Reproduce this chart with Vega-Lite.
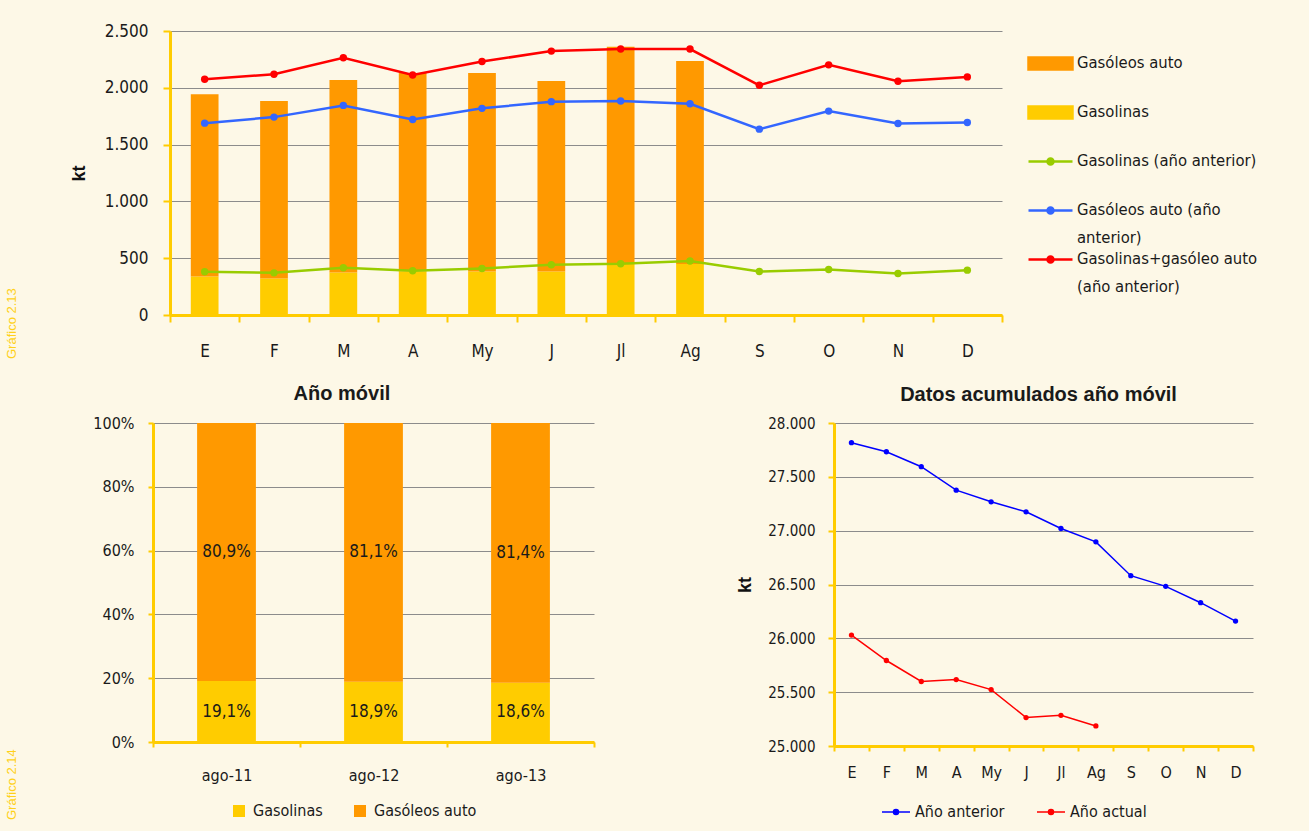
{
  "$schema": "https://vega.github.io/schema/vega-lite/v6.json",
  "background": "#FDF8E7",
  "padding": {"left": 5, "top": 22, "right": 56, "bottom": 12},
  "config": {
    "locale": {"number": {"decimal": ",", "thousands": ".", "grouping": [3], "currency": ["", " €"]}},
    "view": {"stroke": null},
    "axis": {
      "labelFont": "DejaVu Sans Condensed, Liberation Sans Narrow, sans-serif",
      "labelFontSize": 17,
      "labelColor": "#1a1a1a",
      "domainColor": "#FFCC00",
      "domainWidth": 3,
      "tickColor": "#FFCC00",
      "tickWidth": 2,
      "gridColor": "#8c8c8c",
      "gridWidth": 1,
      "titleFont": "Liberation Sans",
      "titleFontWeight": "bold",
      "titleFontSize": 18,
      "titleColor": "#111111"
    },
    "legend": {
      "labelFont": "DejaVu Sans Condensed, Liberation Sans Narrow, sans-serif",
      "labelColor": "#1a1a1a",
      "padding": 0
    },
    "title": {"font": "Liberation Sans", "fontSize": 20, "fontWeight": "bold", "color": "#1a1a1a"}
  },
  "resolve": {"scale": {"color": "independent"}, "legend": {"color": "independent"}},
  "datasets": {
    "barras": [
      {"mes": "E", "serie": "Gasolinas", "valor": 340}, {"mes": "E", "serie": "Gasóleos auto", "valor": 1603},
      {"mes": "F", "serie": "Gasolinas", "valor": 321}, {"mes": "F", "serie": "Gasóleos auto", "valor": 1563},
      {"mes": "M", "serie": "Gasolinas", "valor": 374}, {"mes": "M", "serie": "Gasóleos auto", "valor": 1695},
      {"mes": "A", "serie": "Gasolinas", "valor": 385}, {"mes": "A", "serie": "Gasóleos auto", "valor": 1746},
      {"mes": "My", "serie": "Gasolinas", "valor": 384}, {"mes": "My", "serie": "Gasóleos auto", "valor": 1746},
      {"mes": "J", "serie": "Gasolinas", "valor": 384}, {"mes": "J", "serie": "Gasóleos auto", "valor": 1676},
      {"mes": "Jl", "serie": "Gasolinas", "valor": 448}, {"mes": "Jl", "serie": "Gasóleos auto", "valor": 1913},
      {"mes": "Ag", "serie": "Gasolinas", "valor": 448}, {"mes": "Ag", "serie": "Gasóleos auto", "valor": 1789}
    ],
    "lineas": [
      {"mes": "E", "serie": "Gasolinas (año anterior)", "valor": 380},
      {"mes": "F", "serie": "Gasolinas (año anterior)", "valor": 371},
      {"mes": "M", "serie": "Gasolinas (año anterior)", "valor": 416},
      {"mes": "A", "serie": "Gasolinas (año anterior)", "valor": 389},
      {"mes": "My", "serie": "Gasolinas (año anterior)", "valor": 410},
      {"mes": "J", "serie": "Gasolinas (año anterior)", "valor": 442},
      {"mes": "Jl", "serie": "Gasolinas (año anterior)", "valor": 451},
      {"mes": "Ag", "serie": "Gasolinas (año anterior)", "valor": 475},
      {"mes": "S", "serie": "Gasolinas (año anterior)", "valor": 383},
      {"mes": "O", "serie": "Gasolinas (año anterior)", "valor": 401},
      {"mes": "N", "serie": "Gasolinas (año anterior)", "valor": 365},
      {"mes": "D", "serie": "Gasolinas (año anterior)", "valor": 395},
      {"mes": "E", "serie": "Gasóleos auto (año anterior)", "valor": 1689},
      {"mes": "F", "serie": "Gasóleos auto (año anterior)", "valor": 1742},
      {"mes": "M", "serie": "Gasóleos auto (año anterior)", "valor": 1845},
      {"mes": "A", "serie": "Gasóleos auto (año anterior)", "valor": 1721},
      {"mes": "My", "serie": "Gasóleos auto (año anterior)", "valor": 1819},
      {"mes": "J", "serie": "Gasóleos auto (año anterior)", "valor": 1878},
      {"mes": "Jl", "serie": "Gasóleos auto (año anterior)", "valor": 1884},
      {"mes": "Ag", "serie": "Gasóleos auto (año anterior)", "valor": 1860},
      {"mes": "S", "serie": "Gasóleos auto (año anterior)", "valor": 1636},
      {"mes": "O", "serie": "Gasóleos auto (año anterior)", "valor": 1795},
      {"mes": "N", "serie": "Gasóleos auto (año anterior)", "valor": 1686},
      {"mes": "D", "serie": "Gasóleos auto (año anterior)", "valor": 1695},
      {"mes": "E", "serie": "Gasolinas+gasóleo auto (año anterior)", "valor": 2075},
      {"mes": "F", "serie": "Gasolinas+gasóleo auto (año anterior)", "valor": 2120},
      {"mes": "M", "serie": "Gasolinas+gasóleo auto (año anterior)", "valor": 2264},
      {"mes": "A", "serie": "Gasolinas+gasóleo auto (año anterior)", "valor": 2113},
      {"mes": "My", "serie": "Gasolinas+gasóleo auto (año anterior)", "valor": 2231},
      {"mes": "J", "serie": "Gasolinas+gasóleo auto (año anterior)", "valor": 2323},
      {"mes": "Jl", "serie": "Gasolinas+gasóleo auto (año anterior)", "valor": 2341},
      {"mes": "Ag", "serie": "Gasolinas+gasóleo auto (año anterior)", "valor": 2341},
      {"mes": "S", "serie": "Gasolinas+gasóleo auto (año anterior)", "valor": 2022},
      {"mes": "O", "serie": "Gasolinas+gasóleo auto (año anterior)", "valor": 2202},
      {"mes": "N", "serie": "Gasolinas+gasóleo auto (año anterior)", "valor": 2058},
      {"mes": "D", "serie": "Gasolinas+gasóleo auto (año anterior)", "valor": 2096}
    ],
    "movil": [
      {"periodo": "ago-11", "serie": "Gasolinas", "cuota": 0.191},
      {"periodo": "ago-11", "serie": "Gasóleos auto", "cuota": 0.809},
      {"periodo": "ago-12", "serie": "Gasolinas", "cuota": 0.189},
      {"periodo": "ago-12", "serie": "Gasóleos auto", "cuota": 0.811},
      {"periodo": "ago-13", "serie": "Gasolinas", "cuota": 0.186},
      {"periodo": "ago-13", "serie": "Gasóleos auto", "cuota": 0.814}
    ],
    "acumulado": [
      {"mes": "E", "serie": "Año anterior", "valor": 27817},
      {"mes": "F", "serie": "Año anterior", "valor": 27733},
      {"mes": "M", "serie": "Año anterior", "valor": 27594},
      {"mes": "A", "serie": "Año anterior", "valor": 27376},
      {"mes": "My", "serie": "Año anterior", "valor": 27268},
      {"mes": "J", "serie": "Año anterior", "valor": 27175},
      {"mes": "Jl", "serie": "Año anterior", "valor": 27020},
      {"mes": "Ag", "serie": "Año anterior", "valor": 26896},
      {"mes": "S", "serie": "Año anterior", "valor": 26582},
      {"mes": "O", "serie": "Año anterior", "valor": 26483},
      {"mes": "N", "serie": "Año anterior", "valor": 26331},
      {"mes": "D", "serie": "Año anterior", "valor": 26160},
      {"mes": "E", "serie": "Año actual", "valor": 26030},
      {"mes": "F", "serie": "Año actual", "valor": 25794},
      {"mes": "M", "serie": "Año actual", "valor": 25599},
      {"mes": "A", "serie": "Año actual", "valor": 25617},
      {"mes": "My", "serie": "Año actual", "valor": 25524},
      {"mes": "J", "serie": "Año actual", "valor": 25264},
      {"mes": "Jl", "serie": "Año actual", "valor": 25285},
      {"mes": "Ag", "serie": "Año actual", "valor": 25186}
    ]
  },
  "spacing": 25,
  "vconcat": [
    {
      "width": 832,
      "height": 284,
      "title": {"text": "Gráfico 2.13", "orient": "left", "anchor": "start", "frame": "bounds", "offset": 51, "font": "Liberation Sans", "fontSize": 13, "fontWeight": "normal", "color": "#FFD11A"},
      "layer": [
        {
          "data": {"name": "barras"},
          "mark": {"type": "bar", "width": {"band": 0.4}},
          "encoding": {
            "x": {"field": "mes", "type": "ordinal", "sort": ["E","F","M","A","My","J","Jl","Ag","S","O","N","D"],
                  "scale": {"domain": ["E","F","M","A","My","J","Jl","Ag","S","O","N","D"], "paddingInner": 0, "paddingOuter": 0},
                  "axis": {"title": null, "labelAngle": 0, "tickBand": "extent", "tickSize": 7, "labelPadding": 21, "grid": false}},
            "y": {"field": "valor", "type": "quantitative", "stack": "zero",
                  "scale": {"domain": [0, 2500], "nice": false},
                  "axis": {"title": "kt", "values": [0, 500, 1000, 1500, 2000, 2500], "format": ",d", "tickSize": 7, "labelPadding": 15, "titlePadding": 16}},
            "color": {"field": "serie", "type": "nominal",
                      "scale": {"domain": ["Gasóleos auto", "Gasolinas", "Gasolinas (año anterior)", "Gasóleos auto (año anterior)", "Gasolinas+gasóleo auto (año anterior)"],
                                "range": ["#FF9900", "#FFCC00", "#99CC00", "#3366FF", "#FF0000"]},
                      "legend": {
                        "title": null, "orient": "none", "legendX": 869, "legendY": 21, "direction": "vertical",
                        "symbolSize": 400, "labelFontSize": 16.5, "labelOffset": 15, "labelLimit": 300,
                        "rowPadding": 2, "gridAlign": "all", "labelBaseline": "top",
                        "labelExpr": "datum.label == 'Gasóleos auto (año anterior)' ? ['Gasóleos auto (año', 'anterior)'] : datum.label == 'Gasolinas+gasóleo auto (año anterior)' ? ['Gasolinas+gasóleo auto', '(año anterior)'] : datum.label",
                        "encode": {
                          "symbols": {"update": {
                            "shape": {"signal": "(datum.value == 'Gasóleos auto' || datum.value == 'Gasolinas') ? 'M-2.2,-0.6H2.2V0.6H-2.2Z' : 'M-2.2,0H2.2M0.3,0A0.3,0.3,0,1,1,-0.3,0A0.3,0.3,0,1,1,0.3,0Z'"},
                            "fill": {"signal": "datum.value == 'Gasóleos auto' ? '#FF9900' : datum.value == 'Gasolinas' ? '#FFCC00' : datum.value == 'Gasolinas (año anterior)' ? '#99CC00' : datum.value == 'Gasóleos auto (año anterior)' ? '#3366FF' : '#FF0000'"},
                            "stroke": {"signal": "datum.value == 'Gasóleos auto' ? 'transparent' : datum.value == 'Gasolinas' ? 'transparent' : datum.value == 'Gasolinas (año anterior)' ? '#99CC00' : datum.value == 'Gasóleos auto (año anterior)' ? '#3366FF' : '#FF0000'"},
                            "strokeWidth": {"value": 2.5},
                            "opacity": {"value": 1}
                          }},
                          "labels": {"update": {"dy": {"value": -9}, "lineHeight": {"value": 28}}}
                        }
                      }},
            "order": {"field": "serie", "sort": "ascending"}
          }
        },
        {
          "data": {"name": "lineas"},
          "mark": {"type": "line", "strokeWidth": 2.5, "point": {"filled": true, "size": 55}},
          "encoding": {
            "x": {"field": "mes", "type": "ordinal", "sort": ["E","F","M","A","My","J","Jl","Ag","S","O","N","D"]},
            "y": {"field": "valor", "type": "quantitative"},
            "color": {"field": "serie", "type": "nominal"}
          }
        }
      ]
    },
    {
      "title": {"text": "Gráfico 2.14", "orient": "left", "anchor": "start", "frame": "bounds", "offset": 74, "font": "Liberation Sans", "fontSize": 13, "fontWeight": "normal", "color": "#FFD11A"},
      "spacing": 125,
      "resolve": {"scale": {"color": "independent"}, "legend": {"color": "independent"}},
      "hconcat": [
        {
          "width": 424,
          "height": 319,
          "title": {"text": "Año móvil", "frame": "bounds", "offset": 11, "dx": -10},
          "data": {"name": "movil"},
          "encoding": {
            "x": {"field": "periodo", "type": "ordinal",
                  "scale": {"range": [-17, 424], "paddingInner": 0, "paddingOuter": 0},
                  "axis": {"title": null, "labelAngle": 0, "tickBand": "extent", "tickSize": 5, "labelPadding": 20, "grid": false, "labelFontSize": 16}}
          },
          "layer": [
            {
              "mark": {"type": "bar", "width": {"band": 0.4}},
              "encoding": {
                "y": {"field": "cuota", "type": "quantitative", "stack": "zero", "scale": {"domain": [0, 1], "nice": false},
                      "axis": {"title": null, "values": [0, 0.2, 0.4, 0.6, 0.8, 1], "format": ".0%", "tickSize": 5, "labelPadding": 14, "labelFontSize": 16, "offset": 17}},
                "color": {"field": "serie", "type": "nominal",
                          "scale": {"domain": ["Gasolinas", "Gasóleos auto"], "range": ["#FFCC00", "#FF9900"]},
                          "legend": {"title": null, "orient": "none", "legendX": 61, "legendY": 380, "direction": "horizontal",
                                     "symbolType": "square", "symbolSize": 144, "labelFontSize": 16, "labelOffset": 6, "columnPadding": 29}},
                "order": {"field": "serie", "sort": "ascending"}
              }
            },
            {
              "transform": [
                {"stack": "cuota", "groupby": ["periodo"], "sort": [{"field": "serie", "order": "ascending"}], "as": ["v0", "v1"]},
                {"fold": ["v0", "v1"], "as": ["borde", "pos"]},
                {"aggregate": [{"op": "mean", "field": "pos", "as": "centro"}], "groupby": ["periodo", "serie", "cuota"]}
              ],
              "mark": {"type": "text", "fontSize": 17, "color": "#1a1a1a", "baseline": "middle", "font": "DejaVu Sans Condensed, Liberation Sans Narrow, sans-serif"},
              "encoding": {
                "y": {"field": "centro", "type": "quantitative"},
                "text": {"field": "cuota", "type": "quantitative", "format": ".1%"}
              }
            }
          ]
        },
        {
          "width": 419,
          "height": 323,
          "title": {"text": "Datos acumulados año móvil", "frame": "group", "offset": 11, "dx": -5},
          "data": {"name": "acumulado"},
          "mark": {"type": "line", "strokeWidth": 1.5, "point": {"filled": true, "size": 28}},
          "encoding": {
            "x": {"field": "mes", "type": "ordinal", "sort": ["E","F","M","A","My","J","Jl","Ag","S","O","N","D"],
                  "scale": {"type": "band", "domain": ["E","F","M","A","My","J","Jl","Ag","S","O","N","D"], "paddingInner": 0, "paddingOuter": 0},
                  "axis": {"title": null, "labelAngle": 0, "tickBand": "extent", "tickSize": 5, "labelPadding": 13, "grid": false, "labelFontSize": 16}},
            "y": {"field": "valor", "type": "quantitative",
                  "scale": {"domain": [25000, 28000], "zero": false, "nice": false},
                  "axis": {"title": "kt", "values": [25000, 25500, 26000, 26500, 27000, 27500, 28000], "format": ",d", "tickSize": 6, "labelPadding": 13, "titlePadding": 13, "labelFontSize": 15}},
            "color": {"field": "serie", "type": "nominal",
                      "scale": {"domain": ["Año anterior", "Año actual"], "range": ["#0000FF", "#FF0000"]},
                      "legend": {"title": null, "orient": "none", "legendX": 47, "legendY": 374, "direction": "horizontal",
                                 "symbolType": "M-1,0H1M0.18,0A0.18,0.18,0,1,1,-0.18,0A0.18,0.18,0,1,1,0.18,0Z",
                                 "symbolSize": 784, "symbolStrokeWidth": 1.5, "labelFontSize": 16, "labelOffset": 4, "columnPadding": 29,
                                 "encode": {"symbols": {"update": {
                                   "fill": {"signal": "datum.value == 'Año anterior' ? '#0000FF' : '#FF0000'"},
                                   "stroke": {"signal": "datum.value == 'Año anterior' ? '#0000FF' : '#FF0000'"},
                                   "opacity": {"value": 1}}}}}}
          }
        }
      ]
    }
  ]
}
